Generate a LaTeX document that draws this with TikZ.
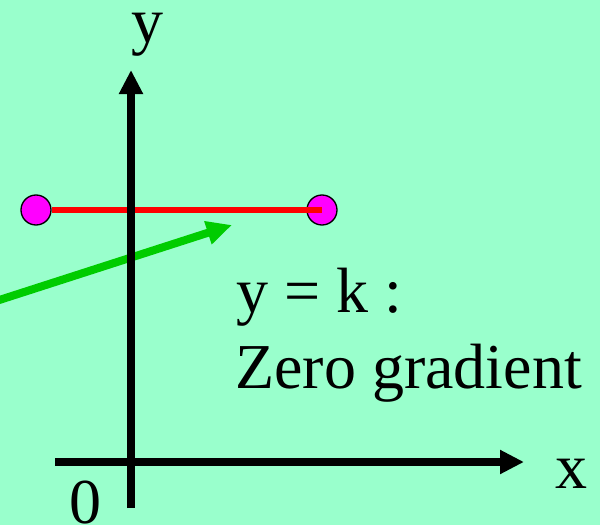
\documentclass[tikz,border=0pt]{standalone}
\usepackage{fontspec}
\setmainfont{Liberation Serif}
\usetikzlibrary{arrows.meta}
\definecolor{mint}{RGB}{153,255,204}
\definecolor{dotfill}{RGB}{255,0,255}
\definecolor{arrowgreen}{RGB}{0,204,0}

\begin{document}
\begin{tikzpicture}[x=0.75pt, y=-0.75pt,
    axis/.style={draw=black, line width=5.5pt, -{Triangle[length=18pt, width=17pt]}},
    dot/.style={circle, draw=black, fill=dotfill, line width=1pt, minimum size=22.5pt, inner sep=0pt},
    level/.style={draw=red, line width=5pt},
    pointer/.style={draw=arrowgreen, line width=6pt, -{Triangle[length=19pt, width=17pt]}},
    lbl/.style={font=\fontsize{48}{56}\selectfont, inner sep=0pt}]

    % Background
    \fill [mint] (0,0) rectangle (600,525);
    \useasboundingbox (0,0) rectangle (600,525);

    % Horizontal line y = k
    \node [dot] (ptl) at (36,210) {};
    \node [dot] (ptr) at (322,210) {};
    \path [level] (ptl.east) -- (ptr.center);

    % Pointer to the line
    \coordinate (gstart) at (-10,303);
    \coordinate (gtip) at (232,225);
    \path [pointer] (gstart) -- (gtip);

    % Axes
    \coordinate (ybot) at (131,508);
    \coordinate (ytop) at (131,70);
    \coordinate (xleft) at (55,462);
    \coordinate (xright) at (524,462);
    \path [axis] (ybot) -- (ytop);
    \path [axis] (xleft) -- (xright);

    % Labels
    \node [lbl, anchor=base] (ylab) at (147,42) {y};
    \node [lbl, anchor=base west] (xlab) at (555,488) {x};
    \node [lbl, anchor=base west] (zero) at (69,523) {0};
    \node [lbl, anchor=base west] (eqn) at (236,312) {y = k :};
    \node [lbl, anchor=base west] (desc) at (235,388) {Zero gradient};
\end{tikzpicture}
\end{document}
